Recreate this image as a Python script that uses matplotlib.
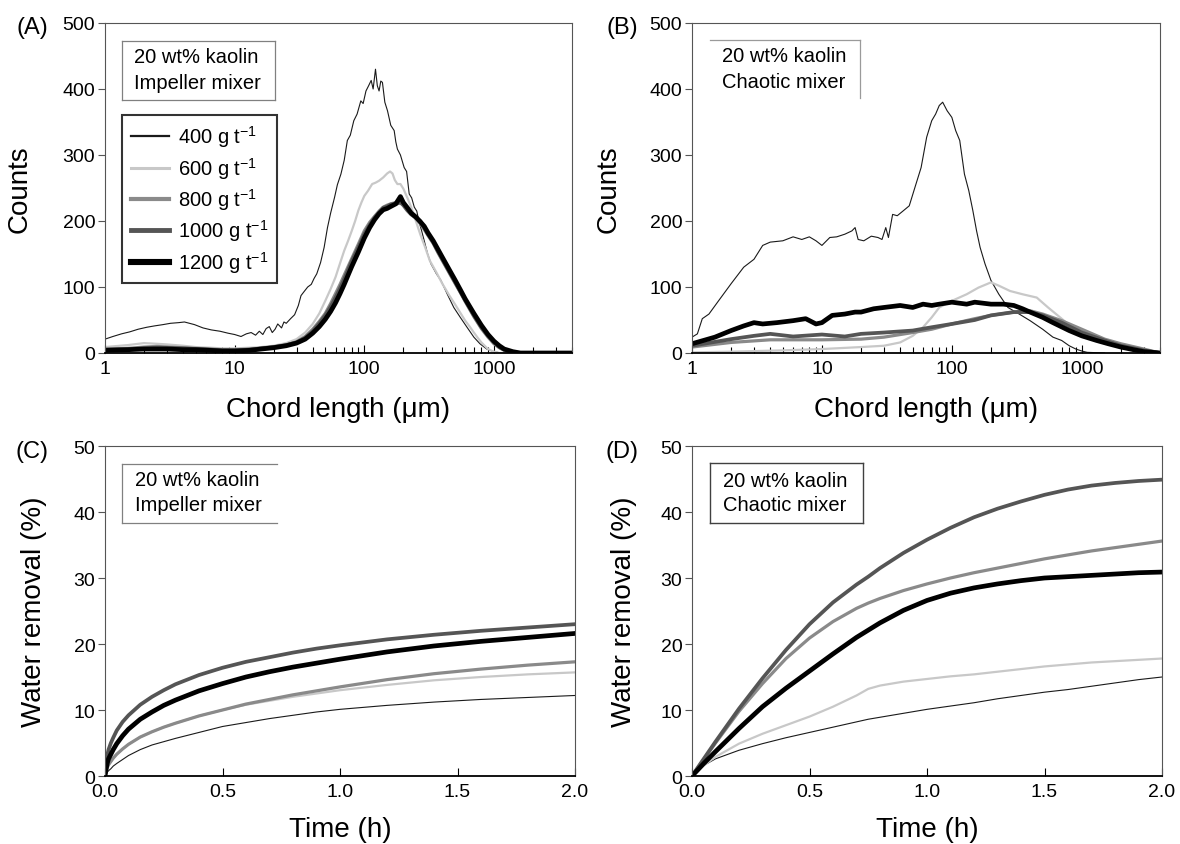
import matplotlib
matplotlib.use("Agg")
import matplotlib.pyplot as plt
from matplotlib.lines import Line2D
from matplotlib import ticker

plt.rcParams['font.family'] = ['Liberation Sans', 'DejaVu Sans']
plt.rcParams['mathtext.fontset'] = 'custom'
plt.rcParams['mathtext.rm'] = 'Liberation Sans'
plt.rcParams['mathtext.it'] = 'Liberation Sans:italic'
plt.rcParams['mathtext.bf'] = 'Liberation Sans:bold'

# ---------------- data ----------------
doses = ["400", "600", "800", "1000", "1200"]
colors = ["#1a1a1a", "#c8c8c8", "#8a8a8a", "#555555", "#000000"]
line_w = [0.8, 1.6, 2.3, 2.7, 3.4]
legend_w = [1.6, 2.2, 3.0, 3.5, 4.4]

# Panel A : chord length distributions, impeller mixer
A400_x = [1, 1.15, 1.34, 1.55, 1.8, 2.1, 2.4, 2.8, 3.2, 3.7, 4.1, 4.9, 5.7, 6.6, 7.7, 8.9, 10, 11.2, 12.3, 13.4,
          14.5, 15.5, 16.5, 17.5, 18.5, 19.5, 20.5, 21.5, 23, 24, 25, 27, 29, 31, 32.5, 34, 36.6, 39, 41, 43,
          46, 49, 52, 55, 59, 62, 66, 70, 74, 78, 83, 88, 94, 98, 103, 108, 113, 117, 122, 126,
          130, 134, 138, 144, 151, 160, 170, 175, 180, 190, 203, 212, 222, 232, 243, 254, 265, 277, 290, 308,
          327, 360, 390, 437, 490, 550, 620, 700, 780, 880, 1000, 1130, 1300, 4000]
A400_y = [21, 25, 29, 32, 36, 39, 41, 43, 45, 46, 47, 43, 38, 35, 33, 30, 28, 25, 29, 31,
          27, 33, 28, 37, 40, 31, 36, 44, 38, 47, 45, 52, 58, 72, 87, 92, 100, 104, 113, 120,
          137, 160, 190, 212, 236, 255, 271, 292, 322, 330, 352, 362, 382, 378, 397, 405, 413, 400, 430, 405,
          397, 412, 410, 380, 367, 345, 337, 320, 309, 300, 281, 275, 241, 235, 221, 215, 198, 185, 170, 150,
          135, 120, 110, 89, 69, 54, 39, 24, 14, 6, 2, 0, 0, 0]

A600_x = [1, 1.5, 2, 2.5, 3, 4, 5, 6.5, 8, 10, 13, 16, 20, 25, 30, 35, 40, 45, 50, 55, 60, 65, 70, 75, 80,
          85, 90, 95, 100, 107, 115, 122, 130, 140, 150, 158, 165, 172, 180, 190, 200, 215, 230, 250, 270,
          295, 320, 360, 400, 450, 500, 550, 600, 650, 700, 750, 800, 900, 1000, 1100, 1300, 4000]
A600_y = [9, 12, 15, 14, 13, 11, 9, 8, 7, 7, 8, 9, 11, 15, 21, 31, 44, 60, 79, 97, 115, 136, 155, 170, 185,
          200, 216, 228, 238, 246, 256, 258, 261, 266, 272, 275, 272, 262, 256, 256, 249, 235, 221, 200, 180,
          160, 140, 122, 105, 88, 74, 61, 49, 40, 31, 23, 16, 6, 2, 0, 0, 0]

A_thick_x = [1, 1.5, 2, 2.5, 3, 4, 5, 6.5, 8, 10, 13, 16, 20, 25, 30, 35, 40, 45, 50, 55, 60, 65, 70, 75, 80,
             90, 100, 110, 120, 130, 140, 150, 160, 175, 190, 200, 215, 230, 250, 270, 290, 310, 340, 370, 400,
             450, 500, 550, 600, 700, 800, 900, 1000, 1100, 1200, 1400, 1600, 2000, 4000]
A800_y = [6, 7, 9, 10, 9, 8, 7, 6, 5, 5, 6, 7, 9, 12, 17, 25, 36, 48, 60, 75, 90, 104, 118, 131, 143,
          165, 185, 198, 207, 215, 221, 224, 226, 228, 229, 225, 218, 212, 204, 196, 187, 178, 166, 152, 140,
          122, 106, 92, 78, 55, 37, 24, 14, 8, 4, 1, 0, 0, 0]
A1000_y = [5, 6, 7, 8, 8, 7, 6, 5, 4, 4, 5, 7, 9, 12, 16, 23, 33, 45, 57, 70, 84, 98, 112, 126, 139,
           160, 180, 194, 205, 213, 220, 222, 225, 226, 228, 224, 216, 210, 205, 200, 190, 180, 168, 154, 142,
           124, 108, 93, 80, 57, 39, 26, 16, 9, 5, 1, 0, 0, 0]
A1200_y = [4, 5, 6, 6, 6, 5, 5, 4, 3, 3, 4, 6, 8, 11, 15, 21, 30, 40, 51, 63, 76, 90, 104, 118, 131,
           153, 174, 190, 202, 211, 217, 219, 222, 226, 237, 228, 220, 212, 206, 199, 192, 182, 170, 157, 145,
           127, 111, 96, 82, 60, 42, 28, 18, 11, 6, 2, 0, 0, 0]

# Panel B : chord length distributions, chaotic mixer
B400_x = [1, 1.1, 1.2, 1.35, 1.6, 2, 2.5, 3, 3.5, 4, 5, 6, 7, 8, 9, 10, 11.5, 13, 15, 17, 18, 19, 21, 24, 27,
          29, 31, 32.5, 35, 38, 42, 47, 52, 58, 64, 70, 75, 80, 85, 92, 100, 107, 115, 125, 135, 145, 155, 165,
          180, 200, 230, 270, 330, 400, 500, 600, 700, 800, 900, 1000, 1100, 1500]
B400_y = [24, 29, 52, 59, 79, 105, 130, 142, 163, 168, 170, 176, 172, 176, 170, 163, 175, 176, 180, 185, 190, 172,
          170, 177, 175, 172, 190, 175, 210, 208, 215, 223, 251, 281, 327, 352, 362, 375, 380, 367, 357, 337,
          322, 271, 246, 216, 185, 160, 135, 110, 89, 69, 59, 49, 36, 24, 19, 11, 6, 3, 1, 0]

B600_x = [1, 2, 5, 10, 20, 30, 40, 50, 60, 70, 80, 100, 130, 160, 200, 230, 280, 350, 450, 550, 700, 900, 1200,
          1600, 2200, 3000, 4000]
B600_y = [1, 2, 4, 6, 9, 11, 16, 26, 39, 54, 69, 79, 89, 99, 107, 102, 94, 89, 84, 69, 52, 34, 24, 16, 9, 4, 0]

B800_x = [1, 2, 4, 10, 20, 30, 50, 70, 100, 150, 200, 300, 400, 500, 700, 1000, 1500, 2000, 3000, 4000]
B800_y = [9, 16, 20, 20, 21, 24, 31, 36, 44, 52, 57, 62, 64, 59, 49, 36, 21, 14, 6, 0]

B1000_x = [1, 2, 3, 4, 6, 10, 15, 20, 30, 50, 70, 100, 150, 200, 300, 400, 500, 700, 1000, 1500, 2000, 3000, 4000]
B1000_y = [11, 21, 26, 29, 25, 28, 25, 29, 31, 34, 39, 44, 50, 57, 62, 62, 57, 46, 31, 19, 11, 4, 0]

B1200_x = [1, 1.5, 2, 2.5, 3, 3.5, 4.5, 6, 7.5, 9, 10, 12, 15, 18, 20, 25, 30, 40, 50, 60, 70, 80, 100, 130, 150,
           200, 250, 300, 350, 400, 500, 600, 800, 1000, 1300, 1600, 2000, 2500, 3000, 3500, 4000]
B1200_y = [14, 24, 34, 41, 46, 44, 46, 49, 52, 44, 46, 57, 59, 62, 62, 67, 69, 72, 69, 74, 72, 74, 77, 74, 77,
           74, 74, 72, 67, 62, 54, 46, 34, 26, 19, 14, 9, 5, 2, 1, 0]

# Panel C : water removal, impeller mixer
C_t = [0, 0.005, 0.01, 0.015, 0.025, 0.035, 0.05, 0.075, 0.1, 0.15, 0.2, 0.25, 0.3, 0.4, 0.5, 0.6, 0.7, 0.8,
       0.9, 1.0, 1.2, 1.4, 1.6, 1.8, 2.0]
C400 = [0, 0.3, 0.6, 0.8, 1.1, 1.5, 1.9, 2.5, 3.1, 4.0, 4.7, 5.2, 5.7, 6.6, 7.5, 8.1, 8.7, 9.2, 9.7, 10.1,
        10.7, 11.2, 11.6, 11.9, 12.2]
C600 = [0, 0.7, 1.3, 1.7, 2.2, 2.7, 3.3, 4.1, 4.8, 5.9, 6.7, 7.4, 8.0, 9.1, 10.0, 10.8, 11.4, 12.0, 12.5, 13.0,
        13.8, 14.5, 15.0, 15.4, 15.7]
C800 = [0, 0.7, 1.3, 1.7, 2.2, 2.7, 3.3, 4.1, 4.8, 5.9, 6.7, 7.4, 8.0, 9.1, 10.0, 10.9, 11.6, 12.3, 12.9, 13.5,
        14.6, 15.5, 16.2, 16.8, 17.3]
C1000 = [0, 1.8, 3.2, 4.0, 5.0, 5.8, 6.9, 8.2, 9.2, 10.8, 12.0, 13.0, 13.9, 15.3, 16.4, 17.3, 18.0, 18.7, 19.3,
         19.8, 20.7, 21.4, 22.0, 22.5, 23.0]
C1200 = [0, 1.1, 2.0, 2.6, 3.3, 4.0, 4.9, 6.1, 7.1, 8.6, 9.7, 10.7, 11.5, 12.9, 14.0, 15.0, 15.8, 16.5, 17.1,
         17.7, 18.8, 19.7, 20.4, 21.0, 21.6]

# Panel D : water removal, chaotic mixer
D_t = [0, 0.05, 0.1, 0.2, 0.3, 0.4, 0.5, 0.6, 0.7, 0.75, 0.8, 0.9, 1.0, 1.1, 1.2, 1.3, 1.4, 1.5, 1.6, 1.7,
       1.8, 1.9, 2.0]
D400 = [0, 1.6, 2.6, 3.9, 4.9, 5.8, 6.6, 7.4, 8.2, 8.6, 8.9, 9.5, 10.1, 10.6, 11.1, 11.7, 12.2, 12.7, 13.1,
        13.6, 14.1, 14.6, 15.0]
D600 = [0, 1.6, 2.9, 4.9, 6.4, 7.7, 9.0, 10.5, 12.2, 13.2, 13.7, 14.3, 14.7, 15.1, 15.4, 15.8, 16.2, 16.6,
        16.9, 17.2, 17.4, 17.6, 17.8]
D800 = [0, 2.5, 5.0, 9.8, 14.0, 17.8, 20.9, 23.4, 25.4, 26.2, 26.9, 28.1, 29.1, 30.0, 30.8, 31.5, 32.2, 32.9,
        33.5, 34.1, 34.6, 35.1, 35.6]
D1000 = [0, 2.6, 5.2, 10.2, 14.8, 19.1, 23.0, 26.3, 29.0, 30.2, 31.5, 33.8, 35.8, 37.6, 39.2, 40.5, 41.6,
         42.6, 43.4, 44.0, 44.4, 44.7, 44.9]
D1200 = [0, 1.9, 3.7, 7.2, 10.5, 13.3, 15.9, 18.5, 21.0, 22.1, 23.2, 25.1, 26.6, 27.7, 28.5, 29.1, 29.6,
         30.0, 30.2, 30.4, 30.6, 30.8, 30.9]

chord_ticks = [1, 10, 100, 1000]
chord_ticklabels = ["1", "10", "100", "1000"]
count_ticks = [0, 100, 200, 300, 400, 500]
time_ticks = [0.0, 0.5, 1.0, 1.5, 2.0]
time_ticklabels = ["0.0", "0.5", "1.0", "1.5", "2.0"]
water_ticks = [0, 10, 20, 30, 40, 50]

# ---------------- figure ----------------
W, H = 1180, 845
fig = plt.figure(figsize=(W / 100, H / 100), dpi=100)
axA = fig.add_axes([105 / W, 1 - 354 / H, 467 / W, 330 / H])
axB = fig.add_axes([692 / W, 1 - 354 / H, 468 / W, 330 / H])
axC = fig.add_axes([105 / W, 1 - 777 / H, 470 / W, 330 / H])
axD = fig.add_axes([692 / W, 1 - 777 / H, 470 / W, 330 / H])

spine_gray = "#555555"


def style(ax):
    for s in ["left", "top", "right"]:
        ax.spines[s].set_color(spine_gray)
        ax.spines[s].set_linewidth(0.8)
    ax.spines["bottom"].set_color("black")
    ax.spines["bottom"].set_linewidth(1.3)
    ax.tick_params(axis="y", which="both", direction="out", length=5, width=0.8,
                   color=spine_gray, labelsize=14, pad=2)
    ax.tick_params(axis="x", which="major", direction="in", length=6, width=0.8,
                   color="black", labelsize=14, pad=5)
    ax.tick_params(axis="x", which="minor", direction="in", length=4, width=0.8, color="black")


def box(ax, x0, x1, y0, y1, sides, color, lw):
    segs = {"left": ([x0, x0], [y0, y1]), "right": ([x1, x1], [y0, y1]),
            "top": ([x0, x1], [y1, y1]), "bottom": ([x0, x1], [y0, y0])}
    for s in sides:
        xs, ys = segs[s]
        ax.add_line(Line2D(xs, ys, transform=ax.transAxes, color=color, lw=lw, clip_on=False,
                           solid_capstyle="projecting"))


def info(ax, text2, x_text, y1, y2):
    ax.text(x_text, y1, "20 wt% kaolin", transform=ax.transAxes, fontsize=14.5, va="center", ha="left")
    ax.text(x_text, y2, text2, transform=ax.transAxes, fontsize=14.5, va="center", ha="left")


chord_sets = [
    (axA, [(A400_x, A400_y), (A600_x, A600_y), (A_thick_x, A800_y), (A_thick_x, A1000_y), (A_thick_x, A1200_y)]),
    (axB, [(B400_x, B400_y), (B600_x, B600_y), (B800_x, B800_y), (B1000_x, B1000_y), (B1200_x, B1200_y)]),
]
for ax, sets in chord_sets:
    for (xs, ys), c, lw in zip(sets, colors, line_w):
        ax.plot(xs, ys, color=c, lw=lw, solid_joinstyle="round")
    ax.set_xscale("log")
    ax.set_xlim(1, 4000)
    ax.set_ylim(0, 500)
    ax.set_xticks(chord_ticks, chord_ticklabels)
    ax.xaxis.set_minor_locator(ticker.LogLocator(base=10, subs=range(2, 10), numticks=20))
    ax.xaxis.set_minor_formatter(ticker.NullFormatter())
    ax.set_yticks(count_ticks)
    style(ax)
    ax.set_xlabel("Chord length (μm)", fontsize=20)
    ax.set_ylabel("Counts", fontsize=20)
    ax.xaxis.set_label_coords(0.5, -0.13)

axA.yaxis.set_label_coords(-0.156, 0.5)
axB.yaxis.set_label_coords(-0.15, 0.5)

time_sets = [
    (axC, C_t, [C400, C600, C800, C1000, C1200]),
    (axD, D_t, [D400, D600, D800, D1000, D1200]),
]
for ax, t, series in time_sets:
    for ys, c, lw in zip(series, colors, line_w):
        ax.plot(t, ys, color=c, lw=lw, solid_joinstyle="round")
    ax.set_xlim(0, 2.0)
    ax.set_ylim(0, 50)
    ax.set_xticks(time_ticks, time_ticklabels)
    ax.set_yticks(water_ticks)
    style(ax)
    ax.set_xlabel("Time (h)", fontsize=20)
    ax.set_ylabel("Water removal (%)", fontsize=20)
    ax.xaxis.set_label_coords(0.5, -0.12)

axC.yaxis.set_label_coords(-0.123, 0.5)
axD.yaxis.set_label_coords(-0.117, 0.5)

# info boxes
box(axA, 0.036, 0.364, 0.767, 0.945, ["left", "right", "top", "bottom"], "#808080", 0.9)
info(axA, "Impeller mixer", 0.062, 0.897, 0.821)
box(axB, 0.038, 0.359, 0.773, 0.949, ["top", "right"], "#9a9a9a", 0.9)
info(axB, "Chaotic mixer", 0.064, 0.900, 0.824)
box(axC, 0.036, 0.365, 0.768, 0.946, ["left", "top", "bottom"], "#808080", 0.9)
info(axC, "Impeller mixer", 0.064, 0.898, 0.822)
box(axD, 0.039, 0.363, 0.768, 0.947, ["left", "right", "top", "bottom"], "#404040", 1.0)
info(axD, "Chaotic mixer", 0.067, 0.896, 0.823)

# legend in panel A
handles = [Line2D([], [], color=c, lw=lw) for c, lw in zip(colors, legend_w)]
labels = [d + r" g t$^{-1}$" for d in doses]
leg = axA.legend(handles, labels, loc="upper left", bbox_to_anchor=(0.037, 0.721), borderaxespad=0,
                 fontsize=14.5, frameon=True, fancybox=False, edgecolor="black", handlelength=1.9,
                 handletextpad=0.45, labelspacing=0.27, borderpad=0.42)
leg.get_frame().set_linewidth(1.5)

# panel letters
for lbl, x, y in [("(A)", 32, 28), ("(B)", 622, 28), ("(C)", 32, 452), ("(D)", 622, 452)]:
    fig.text(x / W, 1 - y / H, lbl, fontsize=17, ha="center", va="center")

fig.savefig("out.png", dpi=100)
